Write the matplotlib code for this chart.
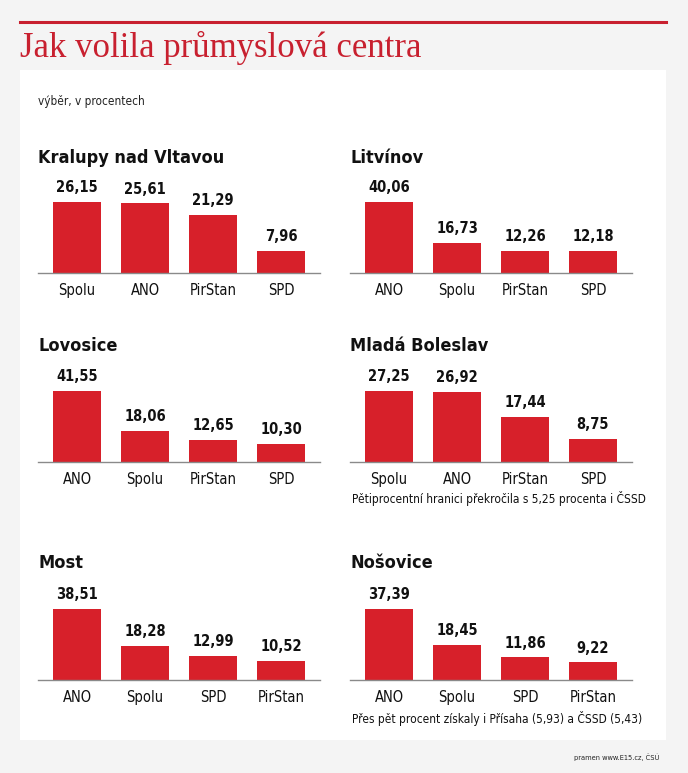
import matplotlib
matplotlib.use("Agg")
import matplotlib.pyplot as plt
from matplotlib.patches import Rectangle

W, H = 688, 773

titles = ["Kralupy nad Vltavou", "Litvínov", "Lovosice", "Mladá Boleslav", "Most", "Nošovice"]
parties = [
    ["Spolu", "ANO", "PirStan", "SPD"],
    ["ANO", "Spolu", "PirStan", "SPD"],
    ["ANO", "Spolu", "PirStan", "SPD"],
    ["Spolu", "ANO", "PirStan", "SPD"],
    ["ANO", "Spolu", "SPD", "PirStan"],
    ["ANO", "Spolu", "SPD", "PirStan"],
]
values = [
    [26.15, 25.61, 21.29, 7.96],
    [40.06, 16.73, 12.26, 12.18],
    [41.55, 18.06, 12.65, 10.30],
    [27.25, 26.92, 17.44, 8.75],
    [38.51, 18.28, 12.99, 10.52],
    [37.39, 18.45, 11.86, 9.22],
]
notes = ["", "", "", "Pětiprocentní hranici překročila s 5,25 procenta i ČSSD",
         "", "Přes pět procent získaly i Přísaha (5,93) a ČSSD (5,43)"]

RED = "#d7202a"
TRED = "#c8202f"
serif = "Liberation Serif"
narrow = "DejaVu Sans"
STR = "condensed"

fig = plt.figure(figsize=(W / 100, H / 100), dpi=100)
fig.patch.set_facecolor("#f4f4f4")

def fx(x):
    return x / W

def fy(y):
    return 1 - y / H

fig.patches.append(Rectangle((fx(20), fy(740)), fx(666) - fx(20), fy(70) - fy(740),
                             transform=fig.transFigure, facecolor="white", edgecolor="none", zorder=-5))
fig.add_artist(plt.Line2D([fx(20), fx(666)], [fy(22), fy(22)], color=TRED, lw=2.2, transform=fig.transFigure))

fig.text(fx(20), fy(48), "Jak volila průmyslová centra", fontsize=25, color=TRED,
         family=serif, va="center", ha="left")
fig.text(fx(38), fy(102), "výběr, v procentech", fontsize=8.5, color="#222222",
         family=narrow, stretch=STR, va="center", ha="left")
fig.text(fx(660), fy(757), "pramen www.E15.cz, ČSÚ", fontsize=5.3, color="#222222",
         family=narrow, stretch=STR, va="center", ha="right")

lefts = [38, 350]
baselines = [273, 462, 680]
title_y = [158, 346, 563]
note_y = [None, 498, 719]
width_px = 282
height_px = 71

for i in range(6):
    r, c = divmod(i, 2)
    x0 = lefts[c]
    base = baselines[r]
    ax = fig.add_axes([fx(x0), fy(base), width_px / W, height_px / H])
    vals = values[i]
    xs = list(range(len(vals)))
    ax.bar(xs, vals, width=48 / 68, color=RED, zorder=2)
    ax.set_xlim(-0.574, 3.574)
    ax.set_ylim(0, max(vals))
    for s in ["top", "right", "left"]:
        ax.spines[s].set_visible(False)
    ax.spines["bottom"].set_color("#8a8a8a")
    ax.spines["bottom"].set_linewidth(1.0)
    ax.set_yticks([])
    ax.set_xticks(xs)
    ax.set_xticklabels(parties[i], fontsize=10.5, family=narrow, stretch=STR, color="#111111")
    ax.tick_params(axis="x", length=0, pad=7)
    ax.patch.set_alpha(0)
    for xv, v in zip(xs, vals):
        ax.annotate(f"{v:.2f}".replace(".", ","), (xv, v), xytext=(0, 5), textcoords="offset points",
                    ha="center", va="bottom", fontsize=10.5, fontweight="bold", family=narrow, stretch=STR,
                    color="#111111", annotation_clip=False)
    fig.text(fx(x0), fy(title_y[r]), titles[i], fontsize=13, fontweight="bold", family=narrow, stretch=STR,
             color="#111111", va="center", ha="left")
    if notes[i]:
        fig.text(fx(x0 + 2), fy(note_y[r]), notes[i], fontsize=8.6, family=narrow, stretch=STR,
                 color="#111111", va="center", ha="left")

fig.savefig("out.png", dpi=100, facecolor=fig.get_facecolor())
